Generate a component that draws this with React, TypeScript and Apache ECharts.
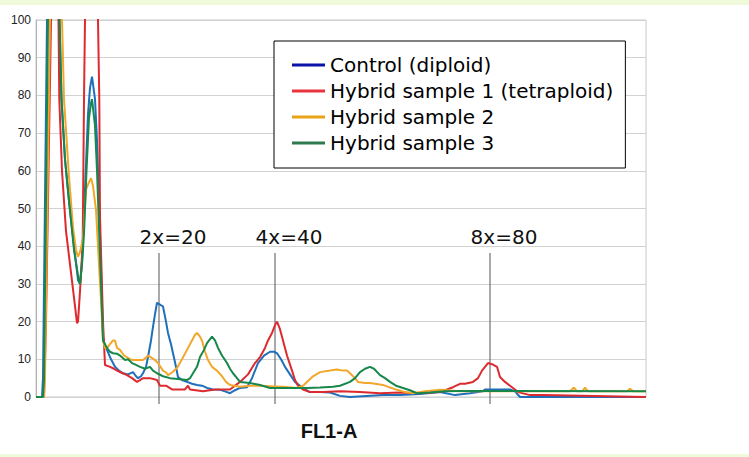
import { useRef, useEffect } from 'react'
import * as echarts from 'echarts'

// ── data (x = FL1-A channel, y = counts) ─────────────────────────
const seriesNames = [
  'Control (diploid)',
  'Hybrid sample 1 (tetraploid)',
  'Hybrid sample 2',
  'Hybrid sample 3',
]
const lineColors   = ['#1f6fba', '#dd2a2f', '#f2a72b', '#17874a']
const legendColors = ['#0a12a8', '#e8343c', '#e8a317', '#2e7a4e']

const control: [number, number][] = [
  [0, 0], [6, 0], [7, 5], [11, 100], [17, 130], [23.5, 100], [25.5, 79], [29, 63], [33, 52], [38, 40],
  [42, 31], [44, 30], [46, 36], [49, 55], [52, 75], [54, 82], [56, 85], [59, 79], [61, 68], [63, 52],
  [65, 34], [67, 16], [69, 13.5], [71, 12.5], [75, 10], [79, 8], [83, 7], [87, 6.3], [92, 6], [97, 6.6],
  [100, 5.5], [102, 5], [105, 5.5], [107, 6.3], [110, 8], [112, 10.6], [115, 15], [117, 18.6], [119, 22], [121, 25],
  [124, 24.5], [127, 24], [130, 20], [132, 17], [135, 14], [137, 11.6], [140, 8], [142, 5.3], [146, 4.5], [151, 4],
  [156, 3.5], [161, 3.2], [166, 3], [171, 2.4], [177, 2], [184, 1.9], [189, 1.5], [194, 1], [199, 1.8], [204, 2.4],
  [211, 2.6], [216, 5], [222, 9], [228, 11], [234, 12], [238, 12], [241, 11.6], [245, 10], [249, 8], [254, 6],
  [259, 4], [264, 3], [269, 2], [274, 1.3], [284, 1.3], [294, 1.2], [304, 0.3], [314, 0], [347, 0.5], [364, 0.5],
  [384, 0.8], [404, 1.3], [419, 0.5], [434, 1], [447, 1.5], [449, 2], [474, 2], [479, 1.5], [484, 0], [610, 0],
]
const hybrid1: [number, number][] = [
  [0, 0], [8, 0], [10, 20], [15, 100], [19, 140], [22.5, 100], [23.3, 79], [26, 60], [30, 44], [35, 33],
  [38.3, 25.7], [41, 19.6], [42, 20], [44, 28], [46.7, 40.8], [48, 79], [49, 100], [55, 160], [62, 100], [63.3, 79],
  [64, 47.7], [67, 20], [69, 8.5], [74, 8], [78, 7.5], [81, 7], [85, 6.5], [91, 5.8], [96, 5], [101, 4],
  [104, 4.5], [107, 5], [114, 5], [121, 4.5], [124, 3], [130, 3], [136, 2], [149, 2], [152, 3], [154, 2],
  [167, 1.5], [179, 2], [194, 2], [204, 4], [212, 6], [219, 9], [224, 10.6], [229, 13], [232, 15], [236, 17],
  [239, 19], [241, 20], [244, 18], [247, 15], [251, 11], [256, 7], [259, 4.5], [262, 3], [267, 2], [274, 1.3],
  [287, 1.3], [304, 1.5], [324, 1.3], [344, 1], [364, 1.2], [384, 1], [404, 1.3], [417, 2.6], [424, 3.5], [429, 3.5],
  [437, 4], [442, 5], [446, 7], [449, 8], [452, 9], [456, 8.7], [461, 8], [464, 5.3], [469, 4], [474, 3],
  [479, 2], [482, 1.3], [494, 0.5], [507, 0.5], [610, 0],
]
const hybrid2: [number, number][] = [
  [0, 0], [8, 0], [9, 5], [14, 100], [20, 135], [26, 100], [28, 79], [33, 58.4], [37, 45], [40, 39],
  [42, 37.2], [44, 38.5], [47, 42], [50, 55], [53, 57], [55, 58], [57, 56], [60, 49.6], [62, 40], [65, 25.7],
  [67, 15], [69, 13], [71, 13], [74, 14], [77, 15], [79, 15], [81, 13], [84, 12.5], [88, 11], [91, 10.6],
  [94, 10], [97, 9.8], [102, 9.8], [107, 9.8], [110, 10.5], [112, 11], [115, 10.5], [119, 9.8], [122, 9], [127, 7],
  [130, 6.5], [132, 5.8], [136, 6.5], [141, 7.7], [146, 10], [151, 12.5], [156, 15], [159, 16.5], [161, 17], [164, 16],
  [166, 15], [169, 12], [172, 9.8], [176, 8], [181, 7], [186, 5.5], [190, 4], [194, 3.2], [204, 2.7], [214, 3],
  [224, 3], [239, 2.8], [247, 2.7], [261, 2.4], [267, 3], [271, 4], [277, 5.5], [284, 6.6], [294, 7], [301, 7.3],
  [307, 7], [311, 7], [314, 6.3], [319, 5], [322, 4], [329, 3.7], [334, 3.7], [347, 3.2], [354, 2.5], [361, 1.9],
  [369, 1.3], [377, 1], [389, 1.5], [404, 1.9], [424, 1.5], [534, 1.5], [538, 2.5], [541, 1.5], [546, 1.5], [549, 2.5],
  [552, 1.5], [591, 1.5], [594, 2.2], [597, 1.5], [610, 1.5],
]
const hybrid3: [number, number][] = [
  [0, 0], [7, 0], [8, 5], [12, 100], [17, 125], [23.5, 100], [25.5, 79], [29, 63], [33, 52], [38, 39],
  [41, 34], [43, 30.6], [44, 30], [46, 35], [48, 43.5], [50.5, 60], [53, 74], [55, 78], [56, 79], [59, 72],
  [61, 60], [63, 45], [65, 30], [67, 15], [71, 13], [74, 12], [77, 11.6], [81, 11.5], [84, 11], [89, 9.8],
  [92, 10], [96, 9], [100, 8.5], [104, 8], [109, 7.5], [114, 8], [117, 7], [121, 6.3], [127, 5.5], [134, 5],
  [142, 4.8], [151, 4.5], [154, 5], [157, 6.3], [161, 8], [164, 10.6], [168, 12.5], [171, 14.3], [176, 16], [179, 15],
  [182, 13], [186, 11], [191, 9], [194, 7.5], [197, 6.3], [201, 5], [204, 4], [214, 3.7], [224, 3.2], [234, 2.4],
  [254, 2.4], [271, 2.4], [284, 2.5], [297, 2.7], [304, 3], [314, 4], [319, 5], [324, 6.6], [329, 7.5], [334, 8],
  [338, 7.5], [344, 5.8], [349, 5], [354, 4], [360, 3], [367, 2.4], [374, 1.8], [381, 1], [394, 1.2], [409, 1.5],
  [424, 1.6], [610, 1.5],
]
const seriesData = [control, hybrid1, hybrid2, hybrid3]

// ploidy reference lines
const markerX      = [123, 239, 454]
const markerTop    = 38.2
const markerLabels = ['2x=20', '4x=40', '8x=80']

const yTicks = { min: 0, max: 100, interval: 10 }

function buildOption(): echarts.EChartsOption {
  return {
    animation: false,
    backgroundColor: '#ffffff',
    grid: { left: 36, right: 103, top: 20, bottom: 60, show: true, borderColor: '#c8c8c8', borderWidth: 1 },

    legend: {
      left: 274, top: 41,
      orient: 'vertical',
      selectedMode: false,
      backgroundColor: '#ffffff',
      borderColor: '#000000', borderWidth: 1,
      padding: [12, 12, 13, 18],
      icon: 'rect',
      itemWidth: 33, itemHeight: 3, itemGap: 2,
      textStyle: { color: '#000000', fontSize: 20, lineHeight: 24, fontFamily: 'DejaVu Sans' },
      data: seriesNames.map((name, i) => ({
        name,
        itemStyle: { color: legendColors[i], borderWidth: 0 },
      })),
    },

    xAxis: {
      type: 'value', min: 0, max: 610,
      name: 'FL1-A', nameLocation: 'middle', nameGap: 24,
      nameTextStyle: { fontFamily: 'Liberation Sans', fontWeight: 'bold', fontSize: 20, color: '#111', padding: [0, 24, 0, 0] },
      axisLine: { show: false }, axisTick: { show: false }, axisLabel: { show: false },
      splitLine: { show: false },
    },
    yAxis: {
      type: 'value', ...yTicks,
      axisLine: { show: true, lineStyle: { color: '#b3b3b3' } },
      axisTick: { show: false },
      axisLabel: { color: '#222', fontSize: 12, fontFamily: 'Liberation Sans', margin: 5 },
      splitLine: { lineStyle: { color: '#d2d2d2', width: 1 } },
    },

    series: [
      {
        type: 'custom',
        silent: true,
        clip: false,
        z: 1,
        data: markerX.map(x => [x, markerTop]),
        encode: { x: 0, y: 1 },
        renderItem: (params: any, api: any) => {
          const x = api.value(0)
          const top = api.coord([x, api.value(1)])
          const bottom = api.coord([x, 0])
          return {
            type: 'group',
            children: [
              {
                type: 'line',
                shape: { x1: top[0], y1: top[1], x2: bottom[0], y2: bottom[1] + 7 },
                style: { stroke: '#555555', lineWidth: 1 },
              },
              {
                type: 'text',
                style: {
                  text: markerLabels[params.dataIndex],
                  x: top[0] + 14, y: top[1] - 16,
                  align: 'center', verticalAlign: 'middle',
                  fill: '#111111', fontSize: 20, fontFamily: 'DejaVu Sans',
                },
              },
            ],
          }
        },
      },
      ...seriesNames.map((name, i) => ({
        name,
        type: 'line' as const,
        data: seriesData[i],
        symbol: 'none',
        z: 2 + i,
        lineStyle: { color: lineColors[i], width: 2 },
        itemStyle: { color: lineColors[i] },
      })),
    ],
  } as echarts.EChartsOption
}

export default function App() {
  const containerRef = useRef<HTMLDivElement>(null)

  useEffect(() => {
    document.body.style.margin = '0'
    if (!containerRef.current) return
    const chart = echarts.init(containerRef.current, undefined, { renderer: 'svg' })
    chart.setOption(buildOption())
    return () => chart.dispose()
  }, [])

  return (
    <div style={{ position: 'relative', width: 749, height: 457, background: '#ffffff', overflow: 'hidden' }}>
      <div ref={containerRef} style={{ position: 'absolute', left: 0, top: 0, width: 749, height: 457 }} />
      <div style={{ position: 'absolute', left: 0, top: 0, width: 749, height: 5, background: '#eefad9' }} />
      <div style={{ position: 'absolute', left: 0, bottom: 0, width: 749, height: 3, background: '#eefad9' }} />
    </div>
  )
}
